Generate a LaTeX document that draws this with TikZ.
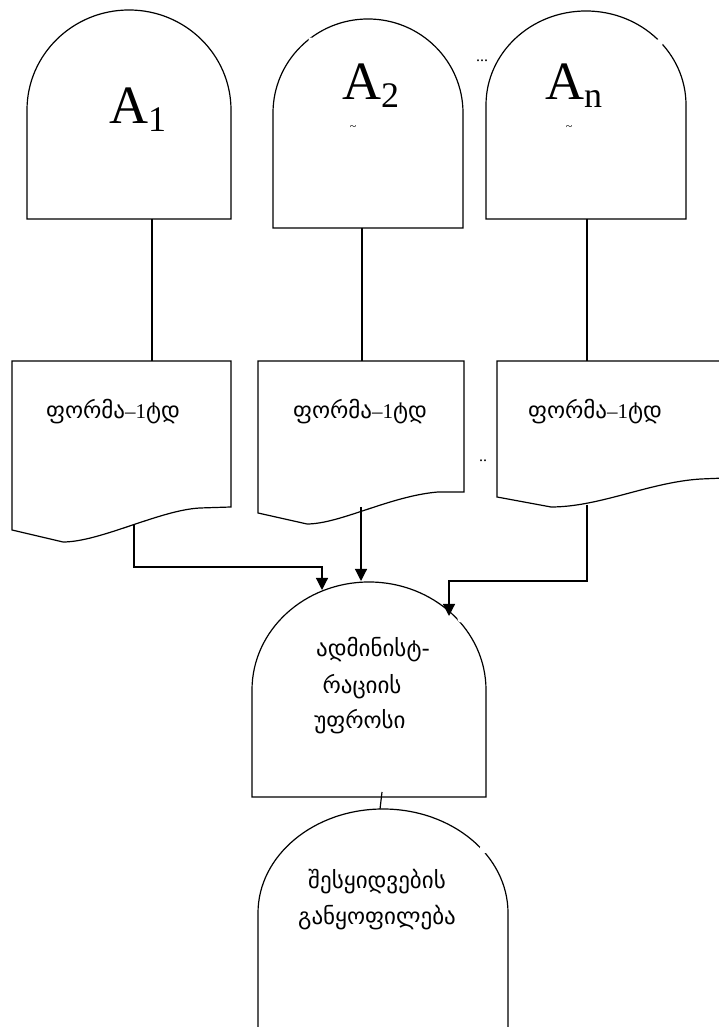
\documentclass[tikz,border=0pt]{standalone}
\usepackage{fontspec}
\setmainfont{Liberation Serif}
\newfontfamily\geo{DejaVu Sans}
\usetikzlibrary{arrows.meta}
\begin{document}
\begin{tikzpicture}[x=1pt,y=1pt,
  shp/.style={draw=black,line width=1.2pt,fill=white},
  con/.style={draw=black,line width=1.2pt},
  arr/.style={con,-{Triangle[length=12pt,width=12pt]}},
  geotxt/.style={font=\geo\fontsize{23}{26}\selectfont,inner sep=0pt},
  biglbl/.style={anchor=base west,inner sep=0pt,font=\fontsize{54}{60}\selectfont},
  small/.style={inner sep=0pt,font=\fontsize{12}{14}\selectfont},
  dots/.style={inner sep=0pt,font=\fontsize{16}{18}\selectfont},
  gap/.style={fill=white,draw=none}]
\newcommand\romone{{\rmfamily\fontsize{21}{24}\selectfont –1}}
\useasboundingbox (0,0) rectangle (718,1027);
% ---- top domes
\draw[shp] (27,808) -- (27,917) arc[start angle=180,end angle=0,x radius=102pt,y radius=100pt] -- (231,808) -- cycle;
\draw[shp] (273,799) -- (273,914) arc[start angle=180,end angle=0,x radius=95pt,y radius=94pt] -- (463,799) -- cycle;
\draw[shp] (486,808) -- (486,922) arc[start angle=180,end angle=0,x radius=100pt,y radius=94pt] -- (686,808) -- cycle;
\fill[gap] (311,987) circle[radius=2.5pt];
\fill[gap] (659,984) circle[radius=4pt];
% labels
\node[biglbl] (la1) at (109,903) {A\raisebox{-7.7pt}{\fontsize{36}{40}\selectfont 1}};
\node[biglbl] (la2) at (342,927) {A\raisebox{-7.5pt}{\fontsize{36}{40}\selectfont 2}};
\node[biglbl] (lan) at (545,927) {A\raisebox{-7.5pt}{\fontsize{36}{40}\selectfont n}};
\node[small] (t2) at (353,899) {\textasciitilde};
\node[small] (tn) at (569,899) {\textasciitilde};
\node[dots] (e1) at (482,966) {...};
\node[dots] (e2) at (483,566) {..};
% ---- documents
\draw[shp] (231,666) -- (12,666) -- (12,497) -- (63,485) .. controls (100,485) and (160,517) .. (200,519) -- (231,520) -- cycle;
\draw[shp] (464,666) -- (258,666) -- (258,514) -- (307,503) .. controls (340,503) and (390,531) .. (438,535) -- (464,535) -- cycle;
\draw[shp] (725,666) -- (497,666) -- (497,530) -- (551,520) .. controls (600,520) and (650,545) .. (701,548) -- (725,549) -- cycle;
\node[geotxt] (f1) at (113,615) {ფორმა\romone ტდ};
\node[geotxt] (f2) at (360,615) {ფორმა\romone ტდ};
\node[geotxt] (f3) at (595,615) {ფორმა\romone ტდ};
% ---- dome to document lines
\coordinate (a1b) at (152,808); \coordinate (d1t) at (152,666);
\coordinate (a2b) at (362,799); \coordinate (d2t) at (362,666);
\coordinate (anb) at (587,808); \coordinate (d3t) at (587,666);
\draw[con] (a1b) -- (d1t);
\draw[con] (a2b) -- (d2t);
\draw[con] (anb) -- (d3t);
% ---- admin dome
\draw[shp] (252,230) -- (252,337) arc[start angle=180,end angle=0,x radius=117pt,y radius=108pt] -- (486,230) -- cycle;
\fill[gap] (461,408) circle[radius=3.5pt];
\node[geotxt] (ad1) at (373,377) {ადმინისტ-};
\node[geotxt] (ad2) at (362,340) {რაციის};
\node[geotxt] (ad3) at (360,305) {უფროსი};
% ---- arrows
\coordinate (d1o) at (134,502); \coordinate (k1) at (322,460); \coordinate (in1) at (322,437);
\coordinate (d2o) at (361,520); \coordinate (in2) at (361,446);
\coordinate (d3o) at (587,522); \coordinate (k3) at (449,446); \coordinate (in3) at (449,411);
\draw[arr] (d1o) |- (k1) -- (in1);
\draw[arr] (d2o) -- (in2);
\draw[arr] (d3o) |- (k3) -- (in3);
% ---- bottom dome
\draw[shp] (258,-5) -- (258,114) arc[start angle=180,end angle=0,x radius=125pt,y radius=104pt] -- (508,-5);
\fill[gap] (483,177) circle[radius=4pt];
\node[geotxt] (b1) at (377,145) {შესყიდვების};
\node[geotxt] (b2) at (377,109) {განყოფილება};
\coordinate (ado) at (382,235); \coordinate (bi) at (380,218);
\draw[con] (ado) -- (bi);
\end{tikzpicture}
\end{document}
